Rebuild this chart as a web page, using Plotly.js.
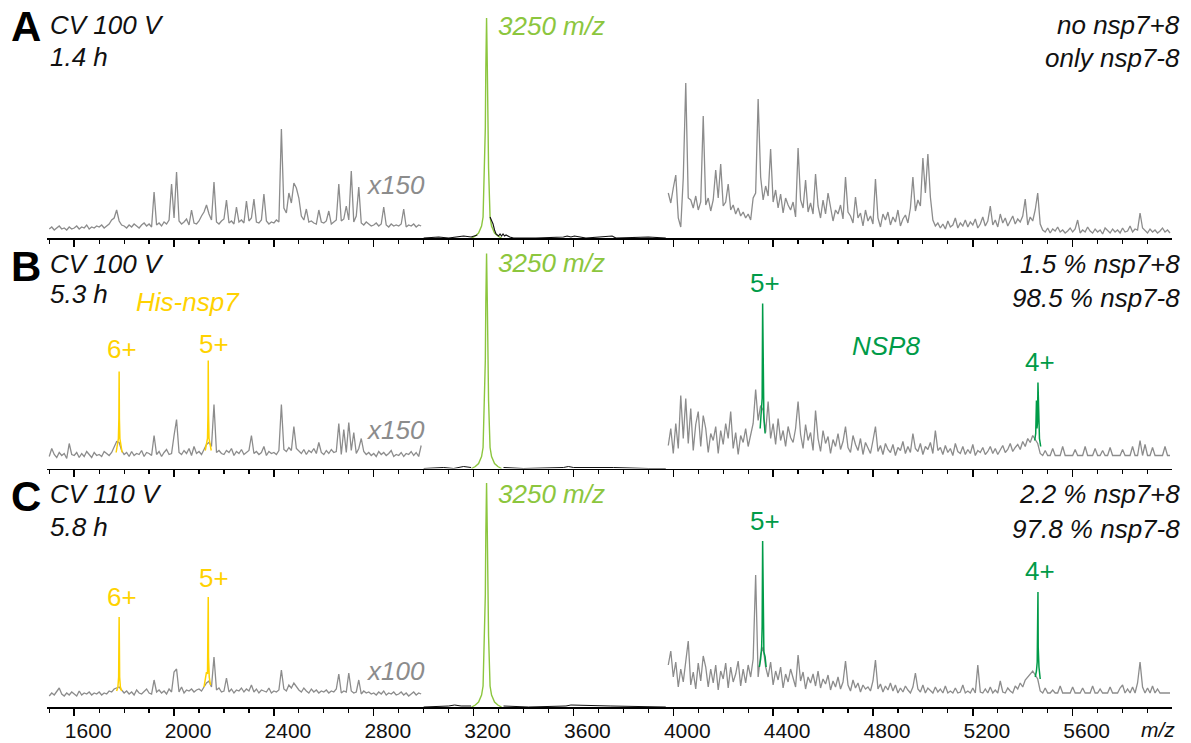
<!DOCTYPE html>
<html>
<head>
<meta charset="utf-8">
<script src="https://cdn.plot.ly/plotly-3.0.1.min.js"></script>
<style>
html,body{margin:0;padding:0;background:#fff;}
#chart{width:1191px;height:743px;}
</style>
</head>
<body>
<div id="chart"></div>
<script>
// ---------------- DATA (m/z, intensity in a.u.; each panel normalised so the 3250 m/z calibrant peak is the top) ----------------
const mzStep = 10;          // sampling step of the read-off spectra
const lowStart = 1500;      // first m/z of the low (x150 / x100) segment
const highStart = 3980;     // first m/z of the high segment

// Panel A (CV 100 V, 1.4 h)
const grayLowA = [
  9,11,8,10,12,9,10,8,11,9,
  10,12,9,11,10,13,9,11,10,12,
  11,13,10,12,14,18,20,28,17,13,
  12,10,13,11,14,12,10,13,15,12,
  14,11,46,13,15,12,16,14,18,54,
  20,66,17,14,16,19,13,28,15,14,
  17,22,26,33,24,18,56,16,14,17,
  19,38,15,17,14,31,16,18,15,37,
  17,20,39,16,15,18,44,17,14,16,
  15,18,16,109,30,25,45,35,55,50,
  40,22,18,29,16,17,15,14,28,16,
  15,17,27,14,16,18,54,17,19,32,
  18,67,16,22,51,15,13,16,14,12,
  13,15,12,14,31,13,11,14,12,13,
  12,14,29,11,13,12,14,11,13,12
];
const grayHighA = [
  45,35,50,63,20,11,60,155,40,38,
  30,42,28,36,122,33,40,27,38,68,
  40,74,32,36,54,28,33,24,30,22,
  26,20,24,18,40,45,139,61,38,52,
  42,89,36,48,30,44,25,40,33,28,
  36,21,90,38,30,58,26,35,24,64,
  32,20,38,24,45,30,17,28,24,33,
  19,61,26,22,15,41,20,25,12,28,
  17,22,14,59,20,11,24,18,26,13,
  21,16,28,12,19,23,15,30,61,27,
  38,32,80,45,84,41,18,12,15,10,
  14,9,17,11,13,20,10,15,12,18,
  11,16,13,19,10,14,21,12,17,32,
  13,18,11,24,15,20,12,17,22,14,
  19,16,22,39,13,21,17,28,45,14,
  8,6,10,5,9,7,11,6,8,5,
  7,10,6,9,18,5,8,6,11,7,
  5,9,6,8,4,10,7,5,9,6,
  8,5,10,6,7,12,6,9,8,25,
  10,7,5,9,6,8,5,7,10,6,
  8,5
];

// Panel B (CV 100 V, 5.3 h)
const grayLowB = [
  12,20,14,11,16,13,15,10,25,14,
  13,16,11,15,12,17,14,11,16,13,
  14,12,17,15,13,16,22,27,26,18,
  14,16,12,17,13,15,14,18,12,16,
  15,13,33,14,17,12,16,19,14,15,
  33,49,16,14,18,15,20,13,22,15,
  17,14,19,24,26,22,64,16,18,15,
  14,18,16,20,13,17,15,19,14,16,
  18,33,15,17,14,16,22,13,17,15,
  16,14,18,64,19,17,21,18,42,20,
  17,15,19,14,18,16,20,15,26,16,
  14,18,15,19,16,17,45,14,39,16,
  46,18,36,15,20,30,17,14,16,13,
  15,12,17,14,16,13,15,18,12,14,
  13,16,12,15,14,17,13,16,12,23
];
const grayHighB = [
  23,40,15,45,20,73,30,70,25,60,
  18,44,57,22,53,40,16,35,28,42,
  15,38,24,45,30,57,20,36,14,33,
  26,40,22,35,45,79,48,63,58,36,
  67,30,45,24,50,28,38,22,42,31,
  26,40,67,34,20,44,28,36,18,58,
  30,17,38,25,32,15,29,22,35,19,
  27,42,21,16,33,24,18,30,14,26,
  20,15,28,42,17,23,14,25,19,16,
  24,13,21,18,27,15,22,16,35,20,
  17,25,14,22,19,26,15,38,18,21,
  14,23,16,20,13,25,17,15,22,14,
  19,15,24,13,18,16,21,14,17,22,
  15,20,14,18,23,16,19,25,17,21,
  24,19,27,22,30,26,33,29,25,15,
  13,18,13,13,20,13,13,13,22,13,
  13,13,13,19,13,13,13,22,13,13,
  13,20,13,13,18,13,13,21,13,13,
  13,13,19,13,13,13,22,13,13,28,
  13,24,13,13,21,13,13,13,13,22,
  13,13
];

// Panel C (CV 110 V, 5.8 h)
const grayLowC = [
  11,14,12,15,19,13,11,14,12,15,
  13,11,16,12,14,13,15,12,14,13,
  15,12,14,13,16,15,18,19,20,17,
  14,16,13,15,12,17,14,13,16,18,
  14,13,27,15,17,14,16,13,18,15,
  35,38,15,20,14,17,16,18,15,17,
  18,16,20,24,26,20,50,17,19,15,
  16,29,15,18,14,17,16,19,15,18,
  16,22,15,18,14,17,16,15,19,14,
  16,15,17,37,18,16,22,19,24,20,
  17,15,19,16,14,18,15,17,14,16,
  15,17,14,16,15,18,33,14,16,15,
  34,16,14,15,27,13,16,14,15,13,
  14,12,15,13,16,12,14,13,15,12,
  13,15,12,14,11,13,15,12,14,13
];
const grayHighC = [
  42,56,30,45,20,38,25,48,66,22,
  35,18,44,26,51,40,20,38,24,42,
  17,36,28,44,19,40,25,33,46,21,
  38,24,42,30,48,132,30,52,60,40,
  30,45,22,36,27,40,19,33,25,38,
  28,20,52,26,35,18,30,24,33,21,
  36,19,28,23,32,17,26,20,30,18,
  25,46,22,16,27,19,24,15,22,18,
  20,16,26,47,18,23,15,21,17,24,
  16,22,14,19,15,21,17,14,20,34,
  18,15,22,14,19,16,14,20,15,18,
  14,21,14,16,14,19,14,15,22,14,
  16,14,19,14,42,15,14,18,14,20,
  14,17,14,26,15,14,19,16,14,21,
  18,24,20,27,30,33,36,32,28,16,
  14,19,14,14,17,14,14,21,14,14,
  14,14,20,14,14,14,19,14,14,14,
  21,14,14,18,14,14,14,20,14,14,
  14,19,22,14,18,14,20,14,24,45,
  20,14,19,14,21,14,18,14,14,14,
  14,14
];

// 3250 m/z calibrant peak
const calibMz = [3192,3207,3220,3232,3238,3241,3244,3247,3249,3252,3255,3257,3260,3263,3266,3272,3284,3297,3312];
const calibA  = [0,2,5,12,21,45,70,110,170,220,170,110,70,45,21,12,5,2,0];
const calibB  = [0,2,5,12,21,44,68,108,166,215,166,108,68,44,21,12,5,2,0];
const calibC  = [0,2,5,12,21,46,71,112,173,224,173,112,71,46,21,12,5,2,0];

// unscaled (black) spectrum around the calibrant
const blackAMz = [3000,3060,3100,3130,3160,3190,3205,3215,null,3266,3272,3278,3284,3290,3300,3306,3312,3318,3324,3330,3345,3360,3450,3560,3575,3590,3604,3650,3755,3770,3900,3970];
const blackA   = [0,1,0,1,2,1,2,3,null,21,18,14,8,4,2,4,2,4,2,3,1,0,0,1,2,1,2,0,2,0,1,0];
const blackBMz = [3000,3080,3120,3160,3190,null,3320,3400,3560,3580,3600,3760,3900,3970];
const blackB   = [0,1,0,2,1,null,1,0,1,2,1,1,0,0];
const blackCMz = [3000,3100,3124,3150,3190,null,3320,3420,3570,3590,3750,3900,3970];
const blackC   = [0,1,2,1,1,null,1,0,1,2,1,0,0];

// His-nsp7 (yellow) charge states
const nsp7z6BMz = [1768,1774,1777,1779,1780,1781,1783,1786,1792];
const nsp7z6B   = [16,26,30,50,97,50,30,24,16];
const nsp7z5BMz = [2125,2131,2134,2136,2137,2138,2140,2143,2149];
const nsp7z5B   = [18,26,30,55,108,55,30,26,18];
const nsp7z6CMz = [1770,1775,1778,1780,1782,1785,1790];
const nsp7z6C   = [16,20,30,90,30,20,16];
const nsp7z5CMz = [2120,2126,2130,2134,2136,2137,2138,2141,2146];
const nsp7z5C   = [20,28,35,33,60,110,50,30,22];

// NSP8 (green) charge states
const nsp8z5BMz = [4348,4353,4356,4358,4360,4363,4368];
const nsp8z5B   = [40,55,70,165,70,50,35];
const nsp8z4BMz = [5448,5452,5455,5457,5459,5461,5463,5467,5472];
const nsp8z4B   = [28,35,68,40,45,86,50,30,22];
const nsp8z5CMz = [4345,4350,4354,4356,4358,4360,4363,4368,4372];
const nsp8z5C   = [40,48,60,80,166,70,55,50,40];
const nsp8z4CMz = [5450,5455,5458,5460,5461,5462,5465,5470];
const nsp8z4C   = [30,36,45,70,115,60,40,28];

// axis ticks
const tickVals = [1600,2000,2400,2800,3200,3600,4000,4400,4800,5200,5600];
const tickText = ['1600','2000','2400','2800','3200','3600','4000','4400','4800','5200','5600'];

// ---------------- LAYOUT HELPERS ----------------
const W = 1191, H = 743, ML = 47, MR = 19, MT = 0, MB = 36;
const plotW = W - ML - MR, plotH = H - MT - MB;
const px = x => (x - ML) / plotW;
const py = y => (MT + plotH - y) / plotH;
function dom(axisPx, heightPx){ const a = (MT + plotH - axisPx) / plotH; return [Math.max(0, a), a + heightPx / plotH]; }
function grid(start, n){ const a = []; for (let i = 0; i < n; i++) a.push(start + i * mzStep); return a; }

const FONT = 'Liberation Sans, Arial, Helvetica, sans-serif';
const GRAY = '#8c8c8c', CAL = '#8cc63e', YEL = '#ffd200', GRN = '#009b48', BLK = '#111111';

function line(x, y, xa, ya, color, w){
  return {type:'scatter', mode:'lines', x:x, y:y, xaxis:xa, yaxis:ya,
          line:{color:color, width:w}, hoverinfo:'skip', showlegend:false};
}

const traces = [];
// Panel A
traces.push(line(grid(lowStart, grayLowA.length), grayLowA, 'x3', 'y3', GRAY, 1.3));
traces.push(line(grid(highStart, grayHighA.length), grayHighA, 'x3', 'y3', GRAY, 1.3));
traces.push(line(calibMz, calibA, 'x3', 'y3', CAL, 1.4));
traces.push(line(blackAMz, blackA, 'x3', 'y3', BLK, 1.1));
// Panel B
traces.push(line(grid(lowStart, grayLowB.length), grayLowB, 'x2', 'y2', GRAY, 1.3));
traces.push(line(grid(highStart, grayHighB.length), grayHighB, 'x2', 'y2', GRAY, 1.3));
traces.push(line(blackBMz, blackB, 'x2', 'y2', BLK, 1));
traces.push(line(calibMz, calibB, 'x2', 'y2', CAL, 1.4));
traces.push(line(nsp7z6BMz, nsp7z6B, 'x2', 'y2', YEL, 1.5));
traces.push(line(nsp7z5BMz, nsp7z5B, 'x2', 'y2', YEL, 1.5));
traces.push(line(nsp8z5BMz, nsp8z5B, 'x2', 'y2', GRN, 1.5));
traces.push(line(nsp8z4BMz, nsp8z4B, 'x2', 'y2', GRN, 1.5));
// Panel C
traces.push(line(grid(lowStart, grayLowC.length), grayLowC, 'x', 'y', GRAY, 1.3));
traces.push(line(grid(highStart, grayHighC.length), grayHighC, 'x', 'y', GRAY, 1.3));
traces.push(line(blackCMz, blackC, 'x', 'y', BLK, 1));
traces.push(line(calibMz, calibC, 'x', 'y', CAL, 1.4));
traces.push(line(nsp7z6CMz, nsp7z6C, 'x', 'y', YEL, 1.5));
traces.push(line(nsp7z5CMz, nsp7z5C, 'x', 'y', YEL, 1.5));
traces.push(line(nsp8z5CMz, nsp8z5C, 'x', 'y', GRN, 1.5));
traces.push(line(nsp8z4CMz, nsp8z4C, 'x', 'y', GRN, 1.5));

function xAxis(anchor, showLabels, lw){
  return {
    anchor: anchor, range:[1491, 5998], showgrid:false, zeroline:false,
    showline:true, linecolor:'#000', linewidth:lw,
    ticks:'outside', ticklen:7, tickwidth:1.5, tickcolor:'#000',
    tickmode:'array', tickvals:tickVals, ticktext:tickText,
    showticklabels:showLabels, ticklabelshift:14, ticklabelstandoff:-3,
    tickfont:{family:FONT, size:21, color:'#111'},
    minor:{ticks:'outside', ticklen:4, tickwidth:1.2, tickcolor:'#000', tickmode:'linear', tick0:1500, dtick:100},
    fixedrange:true
  };
}
function yAxis(d, top){
  return {domain:d, range:[0, top], visible:false, showgrid:false, zeroline:false, fixedrange:true};
}
function ann(text, x, y, xanchor, size, color){
  return {text:text, x:px(x), y:py(y), xref:'paper', yref:'paper', xanchor:xanchor, yanchor:'middle',
          showarrow:false, font:{family:FONT, size:size, color:color}, borderpad:0};
}

const annotations = [
  // Panel A
  ann('<b>A</b>', 10, 27, 'left', 42, '#000'),
  ann('<i>CV 100 V</i>', 49, 25, 'left', 26, BLK),
  ann('<i>1.4 h</i>', 49, 57, 'left', 26, BLK),
  ann('<i>3250 m/z</i>', 497, 26, 'left', 26, CAL),
  ann('<i>x150</i>', 426, 185, 'right', 26, GRAY),
  ann('<i>no nsp7+8</i>', 1181, 25, 'right', 26, BLK),
  ann('<i>only nsp7-8</i>', 1181, 58, 'right', 26, BLK),
  // Panel B
  ann('<b>B</b>', 10, 266, 'left', 42, '#000'),
  ann('<i>CV 100 V</i>', 49, 264, 'left', 26, BLK),
  ann('<i>5.3 h</i>', 49, 294, 'left', 26, BLK),
  ann('<i>3250 m/z</i>', 497, 263, 'left', 26, CAL),
  ann('<i>His-nsp7</i>', 188, 302, 'center', 26, YEL),
  ann('6+', 122, 349, 'center', 26, YEL),
  ann('5+', 214, 344, 'center', 26, YEL),
  ann('<i>x150</i>', 426, 430, 'right', 26, GRAY),
  ann('<i>1.5 % nsp7+8</i>', 1181, 264, 'right', 26, BLK),
  ann('<i>98.5 % nsp7-8</i>', 1181, 298, 'right', 26, BLK),
  ann('5+', 765, 283, 'center', 26, GRN),
  ann('<i>NSP8</i>', 886, 346, 'center', 26, GRN),
  ann('4+', 1040, 362, 'center', 26, GRN),
  // Panel C
  ann('<b>C</b>', 10, 497, 'left', 42, '#000'),
  ann('<i>CV 110 V</i>', 49, 494, 'left', 26, BLK),
  ann('<i>5.8 h</i>', 49, 527, 'left', 26, BLK),
  ann('<i>3250 m/z</i>', 497, 494, 'left', 26, CAL),
  ann('6+', 122, 597, 'center', 26, YEL),
  ann('5+', 214, 578, 'center', 26, YEL),
  ann('<i>x100</i>', 426, 671, 'right', 26, GRAY),
  ann('<i>2.2 % nsp7+8</i>', 1181, 494, 'right', 26, BLK),
  ann('<i>97.8 % nsp7-8</i>', 1181, 529, 'right', 26, BLK),
  ann('5+', 765, 521, 'center', 26, GRN),
  ann('4+', 1040, 571, 'center', 26, GRN),
  // axis unit
  ann('<i>m/z</i>', 1158, 730, 'center', 21, '#111')
];

const layout = {
  width:W, height:H,
  margin:{l:ML, r:MR, t:MT, b:MB, pad:0},
  paper_bgcolor:'#fff', plot_bgcolor:'rgba(0,0,0,0)',
  font:{family:FONT, color:'#111'},
  showlegend:false,
  xaxis: xAxis('y', true, 2),
  xaxis2: Object.assign(xAxis('y2', false, 1.5), {matches:'x'}),
  xaxis3: Object.assign(xAxis('y3', false, 1.5), {matches:'x'}),
  yaxis:  yAxis(dom(707, 228), 228),
  yaxis2: yAxis(dom(468.5, 220), 220),
  yaxis3: yAxis(dom(238, 224), 224),
  annotations: annotations
};

Plotly.newPlot('chart', traces, layout, {displayModeBar:false, staticPlot:true});
</script>
</body>
</html>
